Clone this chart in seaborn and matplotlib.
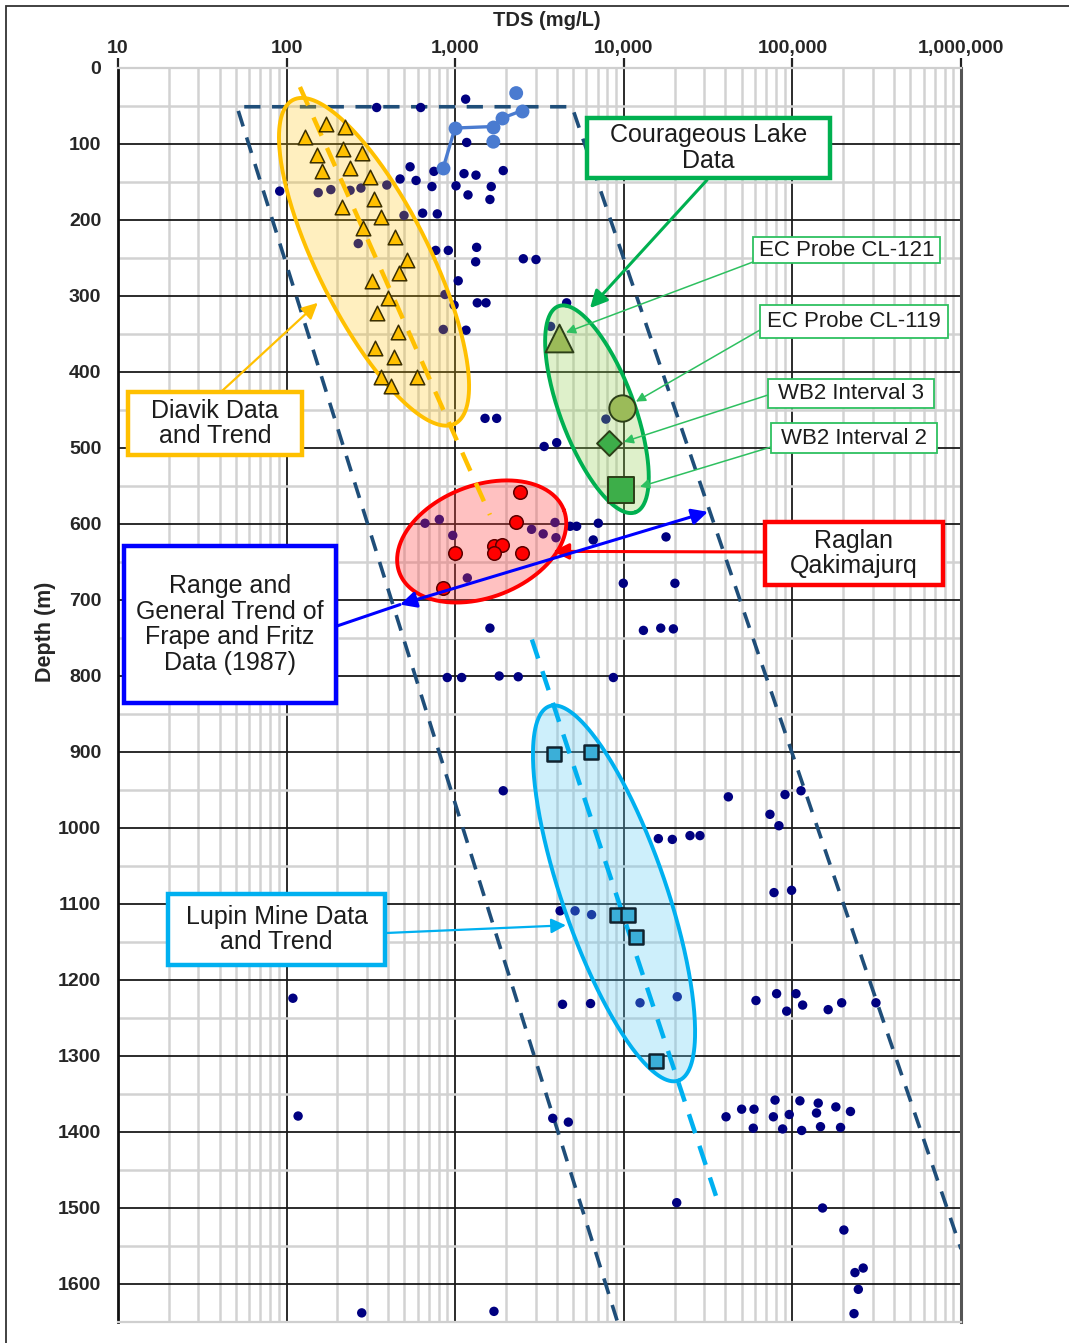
import numpy as np
import matplotlib
matplotlib.use("Agg")
import matplotlib.pyplot as plt
import matplotlib.ticker as mticker
from matplotlib.patches import Rectangle
import seaborn as sns

# ---- data: TDS (mg/L) and depth (m) ----
# Frape and Fritz (1987) compilation, small navy dots
ff_tds = [342, 624, 1153, 1170, 540, 471, 393, 586, 748, 728, 1011, 1128, 1328, 1927, 1636,
          1191, 1607, 91, 154, 183, 238, 276, 497, 641, 783, 266, 766, 910, 1340, 1322, 2535,
          3014, 1042, 870, 985, 1352, 1523, 850, 1159, 1503, 1762,
          4580, 3680, 3370, 4000, 7830,
          662, 805, 967, 2838, 3325, 3960, 3908, 4800, 5250, 7060, 6590, 17800, 1180, 9930,
          20100, 1607, 13070, 16560, 19680, 897, 1092, 1824, 2365, 8670,
          1927, 41700, 16030, 19400, 24700, 28300, 4190, 5140, 6440,
          90400, 112500, 73600, 83200,
          77800, 98900, 4330, 6350, 12480, 20750, 60800, 80600, 105000, 92500, 115000, 163000,
          196000, 313000, 3790, 4690, 40400, 50000, 59200, 58600, 78900, 77100, 87500, 95800,
          110800, 113500, 142300, 139000, 146800, 181000, 221000, 193000,
          20600, 151000, 202000, 235000, 263000, 246000, 232000,
          279, 1698, 109, 117]
ff_depth = [52, 52, 41, 98, 130, 146, 154, 148, 136, 156, 155, 139, 141, 135, 156,
            167, 173, 162, 164, 160, 161, 158, 194, 191, 192, 231, 240, 240, 236, 255, 251,
            252, 280, 298, 312, 309, 309, 344, 345, 461, 461,
            309, 340, 498, 493, 462,
            599, 594, 615, 607, 613, 618, 598, 603, 603, 599, 621, 617, 671, 678,
            678, 737, 740, 737, 738, 802, 802, 800, 801, 802,
            951, 959, 1014, 1015, 1010, 1010, 1109, 1109, 1114,
            956, 951, 982, 997,
            1085, 1082, 1232, 1231, 1230, 1222, 1227, 1218, 1218, 1241, 1233, 1239,
            1230, 1230, 1382, 1387, 1380, 1370, 1370, 1395, 1358, 1380, 1396, 1377,
            1359, 1398, 1362, 1375, 1393, 1367, 1373, 1394,
            1493, 1500, 1529, 1585, 1579, 1607, 1639,
            1638, 1636, 1224, 1379]

# shallow series joined by a line
blue_line_tds = [850, 997, 1683, 1900, 2490]
blue_line_depth = [131, 79, 77, 66, 56]
blue_pts_tds = [2300, 1683]
blue_pts_depth = [33, 97]

# Diavik
diavik_tds = [171, 223, 129, 152, 217, 280, 163, 238, 312, 212, 330, 361, 283, 441, 520,
              467, 319, 401, 345, 459, 334, 434, 361, 414, 592]
diavik_depth = [74, 77, 91, 114, 107, 112, 135, 131, 144, 183, 173, 196, 211, 222, 253,
                270, 280, 303, 323, 348, 369, 380, 406, 419, 406]
diavik_trend_tds = [120, 1607]
diavik_trend_depth = [25, 588]

# Raglan Qakimajurq
raglan_tds = [2420, 2294, 997, 1698, 1887, 1698, 2477, 850]
raglan_depth = [558, 598, 638, 629, 628, 638, 638, 684]

# Lupin Mine
lupin_tds = [3855, 6400, 9060, 10640, 11810, 15520]
lupin_depth = [902, 900, 1114, 1114, 1144, 1306]
lupin_trend_tds = [2850, 35200]
lupin_trend_depth = [752, 1484]

# Courageous Lake
cl121 = (4140, 355)
cl119 = (9700, 447)
wb2_int3 = (8200, 494)
wb2_int2 = (9580, 555)

# Frape and Fritz envelope
env_tds = [9120, 50.8, 4930, 1e6]
env_depth = [1648, 51, 51, 1554]

x_ticks = [10, 100, 1000, 10000, 100000, 1000000]
x_labels = ["10", "100", "1,000", "10,000", "100,000", "1,000,000"]
y_ticks = list(range(0, 1700, 100))

# ---- figure ----
sns.set_style("white")
plt.rcParams["font.family"] = ["Liberation Sans", "DejaVu Sans"]

W, H = 1069, 1343
fig = plt.figure(figsize=(W / 100, H / 100), dpi=100)
ax_l, ax_r, ax_t, ax_b = 118, 961, 68, 1322
ax = fig.add_axes([ax_l / W, 1 - ax_b / H, (ax_r - ax_l) / W, (ax_b - ax_t) / H])
ax.set_xscale("log")
ax.set_xlim(10, 1e6)
ax.set_ylim(1650, 0)
PX_DEC = (ax_r - ax_l) / 5.0
PX_M = (ax_b - ax_t) / 1650.0

ax.xaxis.set_major_locator(mticker.FixedLocator(x_ticks))
ax.xaxis.set_minor_locator(mticker.LogLocator(base=10, subs=np.arange(2, 10)))
ax.xaxis.set_minor_formatter(mticker.NullFormatter())
ax.yaxis.set_major_locator(mticker.FixedLocator(y_ticks))
ax.yaxis.set_minor_locator(mticker.MultipleLocator(50))
ax.xaxis.tick_top()
ax.set_xticklabels(x_labels, fontweight="bold", fontsize=14, color="#262626")
ax.set_yticklabels([str(v) for v in y_ticks], fontweight="bold", fontsize=14, color="#262626")
ax.tick_params(axis="both", which="major", length=7, width=1.6, color="#222222",
               direction="out", pad=5)
ax.tick_params(axis="x", which="major", top=True, bottom=False, pad=1)
ax.tick_params(axis="both", which="minor", length=0)
ax.grid(which="minor", color="#d2d2d2", lw=1.8, zorder=0)
ax.grid(which="major", color="#1a1a1a", lw=1.3, zorder=0)
ax.set_axisbelow(True)
for side, col, w in [("left", "#111111", 2.0), ("right", "#555555", 2.2),
                     ("top", "#cfcfcf", 1.6), ("bottom", "#cfcfcf", 1.6)]:
    ax.spines[side].set_color(col)
    ax.spines[side].set_linewidth(w)
ax.set_xlabel("")
ax.set_ylabel("")


def ellipse(tds, depth, a, b, angle):
    t = np.linspace(0, 2 * np.pi, 300)
    th = np.deg2rad(angle)
    dx = a * np.cos(t) * np.cos(th) - b * np.sin(t) * np.sin(th)
    dy = a * np.cos(t) * np.sin(th) + b * np.sin(t) * np.cos(th)
    return 10 ** (np.log10(tds) + dx / PX_DEC), depth + dy / PX_M


# envelope (dashed)
sns.lineplot(x=env_tds, y=env_depth, sort=False, estimator=None, ax=ax, color="#1F4E79",
             lw=2.6, linestyle=(0, (4.5, 3.2)), zorder=2)

# background dots
sns.scatterplot(x=ff_tds, y=ff_depth, ax=ax, color="#000080", s=46, edgecolor="none",
                zorder=3, legend=False)

# ellipses
for (c, d, a, b, ang, edge, face, al) in [
        (330, 255, 181, 56, 63.5, "#FFC000", "#FFC000", 0.25),
        (6930, 449, 110, 37, 69.5, "#00B050", "#92D050", 0.3),
        (1436, 623, 88, 56, -21, "#FF0000", "#FF4040", 0.32),
        (8750, 1086, 198, 52, 71, "#00B0F0", "#5CCBF5", 0.3)]:
    ex, ey = ellipse(c, d, a, b, ang)
    ax.fill(ex, ey, color=face, alpha=al, lw=0, zorder=4)
    ax.plot(ex, ey, color=edge, lw=2.8, zorder=4.5)

# trend lines
sns.lineplot(x=diavik_trend_tds, y=diavik_trend_depth, ax=ax, color="#FFC000", lw=3.2,
             linestyle=(0, (4.5, 3)), zorder=4.6)
sns.lineplot(x=lupin_trend_tds, y=lupin_trend_depth, ax=ax, color="#00B0F0", lw=3.2,
             linestyle=(0, (4.5, 3)), zorder=4.6)

# shallow blue series
sns.lineplot(x=blue_line_tds, y=blue_line_depth, sort=False, estimator=None, ax=ax,
             color="#4A7BD0", lw=2.4, marker="o", markersize=10, markeredgewidth=0, zorder=5)
sns.scatterplot(x=blue_pts_tds, y=blue_pts_depth, ax=ax, color="#4A7BD0", s=100,
                edgecolor="none", zorder=5, legend=False)

# site data
sns.scatterplot(x=diavik_tds, y=diavik_depth, ax=ax, marker="^", s=110, color="#FFC000",
                edgecolor="#3a2e00", linewidth=1.1, zorder=6, legend=False)
sns.scatterplot(x=raglan_tds, y=raglan_depth, ax=ax, marker="o", s=95, color="#FF0000",
                edgecolor="#5a0000", linewidth=1.1, zorder=6, legend=False)
sns.scatterplot(x=lupin_tds, y=lupin_depth, ax=ax, marker="s", s=105, color="#3BAFD8",
                edgecolor="#10222e", linewidth=1.8, zorder=6, legend=False)
for (pt, mk, sz, fc) in [(cl121, "^", 400, "#9BBB59"), (cl119, "o", 360, "#9BBB59"),
                         (wb2_int3, "D", 160, "#3DAE49"), (wb2_int2, "s", 330, "#3DAE49")]:
    sns.scatterplot(x=[pt[0]], y=[pt[1]], ax=ax, marker=mk, s=sz, color=fc,
                    edgecolor="#2c3f18", linewidth=1.4, zorder=6, legend=False)


# ---- annotation boxes and arrows (figure pixels) ----
def ff(x, y):
    return (x / W, 1 - y / H)


def box(x0, y0, x1, y1, text, edge, lw, fs=18):
    fig.add_artist(Rectangle(ff(x0, y1), (x1 - x0) / W, (y1 - y0) / H,
                             transform=fig.transFigure, facecolor="white",
                             edgecolor=edge, lw=lw, zorder=10))
    fig.text((x0 + x1) / 2 / W, 1 - (y0 + y1) / 2 / H, text, ha="center", va="center",
             fontsize=fs, color="#1c1c1c", linespacing=1.08, zorder=11)


def arrow(start, target, color, lw, ms=16, style="-|>"):
    ax.annotate("", xy=target, xycoords="data", xytext=ff(*start),
                textcoords="figure fraction", annotation_clip=False,
                arrowprops=dict(arrowstyle=style, color=color, lw=lw, mutation_scale=ms,
                                shrinkA=0, shrinkB=0), zorder=8)


arrow((707, 180), (6300, 316), "#00B050", 2.2, 26)
arrow((753, 262), (4540, 348), "#2EC060", 1.1, 14)
arrow((760, 330), (11800, 439), "#2EC060", 1.1, 14)
arrow((768, 395), (10000, 492), "#2EC060", 1.1, 14)
arrow((771, 447), (12470, 551), "#2EC060", 1.1, 14)
arrow((222, 391), (153, 309), "#FFC000", 1.6, 24)
arrow((386, 933), (4540, 1128), "#00B0F0", 1.6, 22)
arrow((765, 552), (3800, 636), "#FF0000", 2.2, 24)
ax.annotate("", xy=(471, 706), xytext=(31550, 584), annotation_clip=False,
            arrowprops=dict(arrowstyle="<|-|>", color="#0000FF", lw=2.2, mutation_scale=24,
                            shrinkA=0, shrinkB=0), zorder=8)
ax.annotate("", xy=(471, 706), xytext=ff(337, 626), textcoords="figure fraction",
            annotation_clip=False,
            arrowprops=dict(arrowstyle="-", color="#0000FF", lw=2.2, shrinkA=0, shrinkB=0),
            zorder=8)

box(587, 118, 830, 178, "Courageous Lake\nData", "#00B050", 3.2)
box(753, 237, 940, 263, "EC Probe CL-121", "#2EC060", 1.3, 16)
box(760, 305, 948, 338, "EC Probe CL-119", "#2EC060", 1.3, 16)
box(768, 379, 934, 408, "WB2 Interval 3", "#2EC060", 1.3, 16)
box(771, 423, 937, 453, "WB2 Interval 2", "#2EC060", 1.3, 16)
box(128, 392, 302, 455, "Diavik Data\nand Trend", "#FFC000", 3.2)
box(124, 546, 336, 703, "Range and\nGeneral Trend of\nFrape and Fritz\nData (1987)",
    "#0000FF", 3.2)
box(765, 522, 943, 585, "Raglan\nQakimajurq", "#FF0000", 3.2)
box(168, 894, 385, 965, "Lupin Mine Data\nand Trend", "#00B0F0", 3.2)

fig.text(547 / W, 1 - 21 / H, "TDS (mg/L)", ha="center", va="center", fontsize=14.5,
         fontweight="bold", color="#262626")
fig.text(45 / W, 1 - 632 / H, "Depth (m)", ha="center", va="center", fontsize=15.5,
         fontweight="bold", color="#262626", rotation=90)

# outer frame
fig.add_artist(Rectangle((6 / W, -0.1), 1.2, 1 - 6 / H + 0.1, transform=fig.transFigure,
                         fill=False, edgecolor="#333333", lw=1.3, zorder=12))

fig.savefig("out.png", dpi=100)
